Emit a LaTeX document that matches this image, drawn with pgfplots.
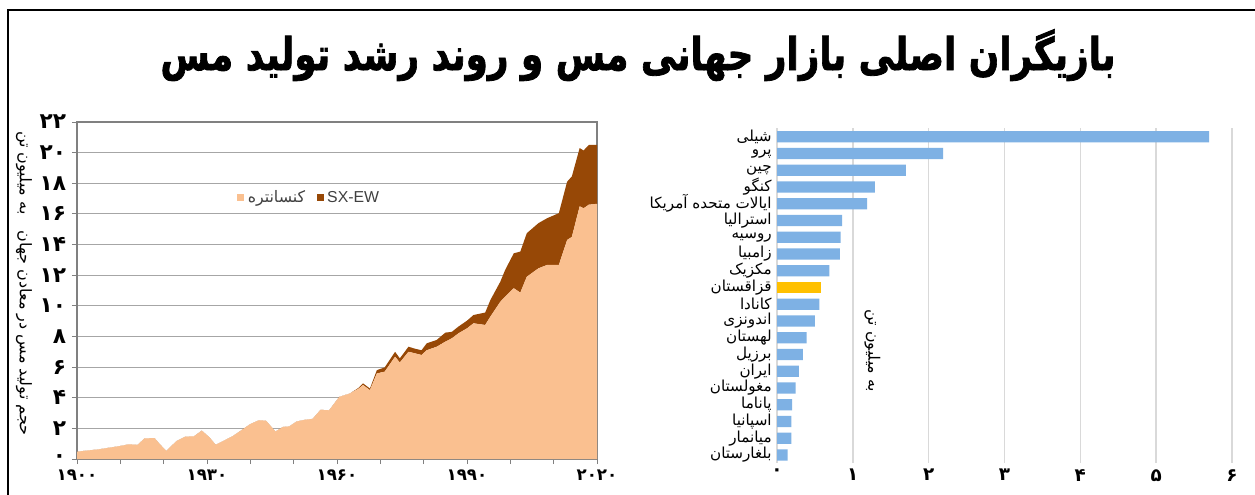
\documentclass[border=0pt]{standalone}
\usepackage{fontspec}
\usepackage{pgfplots}
\usepackage{pgfplotstable}
\pgfplotsset{compat=1.18}
\TeXXeTstate=1
\newfontfamily\arabicfont[Script=Arabic]{DejaVu Sans}
\newfontfamily\titlefont[Script=Arabic,BoldFeatures={FakeBold=1.8}]{DejaVu Sans}
\newfontfamily\arialfont{Liberation Sans}
\newcommand{\RL}[1]{\beginR#1\endR}
\definecolor{conc}{HTML}{FAC090}
\definecolor{sxew}{HTML}{974806}
\definecolor{barblue}{HTML}{7EB1E4}
\definecolor{baryel}{HTML}{FFC000}
\definecolor{gridr}{HTML}{D9D9D9}
\definecolor{legtext}{HTML}{404040}

\pgfplotstableread{
year conc sx
1900 0.48 0
1905 0.63 0
1910 0.85 0
1912 0.96 0
1914 0.92 0
1915.6 1.35 0
1917.9 1.36 0
1919 1.0 0
1920.6 0.52 0
1923 1.18 0
1925 1.46 0
1927 1.48 0
1928.8 1.85 0
1930.6 1.4 0
1932 0.92 0
1936 1.5 0
1940 2.28 0
1942 2.53 0
1943.6 2.5 0
1945.8 1.79 0
1947.5 2.09 0
1949 2.13 0
1950.7 2.45 0
1952.6 2.56 0
1954.4 2.62 0
1956.2 3.21 0
1958.2 3.18 0
1960.5 4.05 0
1963 4.28 0
1965 4.6 0.05
1966 4.83 0.11
1967.6 4.5 0.1
1969.2 5.59 0.21
1971 5.7 0.28
1973.4 6.68 0.32
1974.5 6.3 0.27
1976.5 7.0 0.33
1978 6.9 0.3
1979.5 6.79 0.31
1980.7 7.1 0.45
1983 7.33 0.44
1985 7.66 0.59
1986.5 7.88 0.42
1988 8.2 0.44
1990 8.53 0.5
1991.5 8.86 0.54
1994.2 8.75 0.81
1995.4 9.3 1.08
1997.7 10.27 1.31
1998.8 10.6 1.74
2000.8 11.15 2.28
2002.3 10.86 2.68
2003.8 11.9 2.84
2006.5 12.45 2.95
2008.5 12.67 3.05
2011.2 12.67 3.38
2013.1 14.3 3.8
2014.2 14.5 3.95
2016 16.5 3.8
2016.9 16.37 3.77
2018.1 16.6 3.9
2020 16.66 3.84
}\prodtable

\begin{document}
\begin{tikzpicture}
\fill[white] (0,0) rectangle (753pt,-297pt);
\path[use as bounding box] (0,0) rectangle (753pt,-297pt);
\node[anchor=base, inner sep=0pt] at (382.8pt,-42pt) {\resizebox{573pt}{24.5pt}{\titlefont\bfseries\RL{بازیگران اصلی بازار جهانی مس و روند رشد تولید مس}}};

\begin{axis}[
  at={(46.2pt,-275.4pt)}, anchor=south west,
  scale only axis, width=312pt, height=202.2pt,
  xmin=1900, xmax=2020, ymin=0, ymax=22,
  xtick={1900,1930,1960,1990,2020},
  xticklabels={۱۹۰۰,۱۹۳۰,۱۹۶۰,۱۹۹۰,۲۰۲۰},
  minor xtick={1910,1920,1940,1950,1970,1980,2000,2010},
  ytick={0,2,...,22},
  yticklabels={۰,۲,۴,۶,۸,۱۰,۱۲,۱۴,۱۶,۱۸,۲۰,۲۲},
  tick align=outside, xtick pos=bottom, ytick pos=left,
  major tick length=3pt, minor tick length=3pt,
  tick style={gray, line width=0.6pt},
  axis line style={gray, line width=0.8pt},
  ymajorgrids, grid style={gray!70, line width=0.7pt},
  xticklabel style={font=\arabicfont\bfseries\fontsize{10}{10}\selectfont},
  yticklabel style={font=\arabicfont\bfseries\fontsize{13}{13}\selectfont},
  stack plots=y,
  legend columns=2,
  legend image code/.code={\fill[#1] (0pt,-2.1pt) rectangle (4.2pt,2.1pt);},
  legend style={at={(0.448,0.775)}, anchor=center, draw=none, fill=none,
    font=\fontsize{9.5}{10}\selectfont, text=legtext, inner sep=0pt,
    /tikz/every even column/.append style={column sep=5pt}},
]
\addplot[draw=none, fill=conc] table[x=year,y=conc]{\prodtable} \closedcycle;
\addplot[draw=none, fill=sxew] table[x=year,y=sx]{\prodtable} \closedcycle;
\legend{{\arabicfont\RL{کنسانتره}}, {\arialfont SX-EW}}
\end{axis}

\node[rotate=-90, font=\arabicfont\fontsize{9.6}{9.6}\selectfont] at (14.4pt,-170pt) {\RL{حجم تولید مس در معادن جهان\quad به میلیون تن}};

\begin{axis}[
  at={(466.2pt,-278pt)}, anchor=south west,
  scale only axis, width=273pt, height=201pt,
  xmin=0, xmax=6, ymin=0.5, ymax=20.5, y dir=reverse,
  xbar, bar width=6.8pt, bar shift=0pt,
  xtick={0,...,6}, xticklabels={۰,۱,۲,۳,۴,۵,۶},
  ytick={1,...,20},
  yticklabels={\RL{شیلی},\RL{پرو},\RL{چین},\RL{کنگو},\RL{ایالات متحده آمریکا},\RL{استرالیا},\RL{روسیه},\RL{زامبیا},\RL{مکزیک},\RL{قزاقستان},\RL{کانادا},\RL{اندونزی},\RL{لهستان},\RL{برزیل},\RL{ایران},\RL{مغولستان},\RL{پاناما},\RL{اسپانیا},\RL{میانمار},\RL{بلغارستان}},
  axis line style={draw=none}, major tick length=0pt,
  xmajorgrids, grid style={gridr, line width=0.8pt},
  xticklabel style={font=\arabicfont\bfseries\fontsize{11}{11}\selectfont, yshift=0pt},
  yticklabel style={font=\arabicfont\fontsize{9.1}{9.1}\selectfont, inner sep=1pt, xshift=-2pt},
]
\addplot[fill=barblue, draw=none] coordinates {(5.70,1) (2.19,2) (1.70,3) (1.29,4) (1.19,5) (0.86,6) (0.84,7) (0.83,8) (0.69,9) (0.56,11) (0.50,12) (0.39,13) (0.34,14) (0.29,15) (0.245,16) (0.20,17) (0.19,18) (0.19,19) (0.14,20)};
\addplot[fill=baryel, draw=none] coordinates {(0.575,10)};
\node[rotate=-90, font=\arabicfont\fontsize{9.5}{9.5}\selectfont] at (axis cs:1.26,13.8) {\RL{به میلیون تن}};
\end{axis}
\fill[white] (748pt,-8pt) rectangle (753pt,-297pt);
\draw[line width=1.4pt] (4.8pt,-297pt) -- (4.8pt,-6pt) -- (753pt,-6pt);
\end{tikzpicture}
\end{document}
